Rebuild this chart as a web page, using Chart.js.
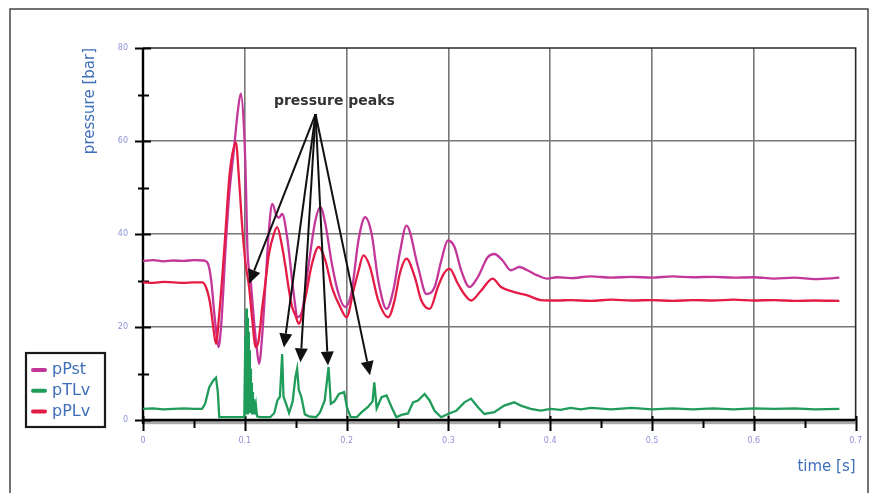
<!DOCTYPE html>
<html><head><meta charset="utf-8">
<script src="https://cdn.jsdelivr.net/npm/chart.js@4.4.0/dist/chart.umd.min.js"></script>
<style>html,body{margin:0;padding:0;background:#fff;} canvas{display:block;}</style>
</head><body>
<canvas id="c" width="878" height="493"></canvas>
<script>
// ---------- data (time [s], pressure [bar]) ----------
const pPstT = [0,0.01,0.02,0.03,0.04,0.05,0.06,0.064,0.067,0.070,0.0725,0.0742,0.077,0.0812,0.0845,0.0896,0.0928,0.0961,0.0993,0.101,0.1025,0.1058,0.109,0.112,0.114,0.1172,0.1205,0.1237,0.127,0.131,0.1335,0.1367,0.1416,0.1465,0.1497,0.1514,0.1563,0.1628,0.1693,0.1742,0.1791,0.1855,0.1921,0.1986,0.2051,0.2116,0.2182,0.2246,0.2311,0.2393,0.2458,0.2523,0.2588,0.2702,0.2783,0.2865,0.293,0.2995,0.306,0.3125,0.3207,0.3288,0.3386,0.3451,0.3532,0.3613,0.3695,0.3776,0.3874,0.3971,0.4069,0.42,0.44,0.46,0.48,0.50,0.52,0.54,0.56,0.58,0.60,0.62,0.64,0.66,0.684];
const pPstV = [34.2,34.4,34.1,34.3,34.2,34.4,34.3,33.5,30,23,18,15.7,21,37.2,47.9,58.7,65.8,70.2,62.3,51.5,37.2,30,21.4,15,12.1,18.5,30,40.8,46.5,44,43.5,44.3,39.3,30,24.3,22.1,23.5,33.6,42.9,45.8,42.2,33.6,27.1,24.3,27.8,38.6,43.6,40,30,23.9,27.8,36,41.8,32.9,27.1,28.6,34.3,38.6,37.2,32.2,28.6,30.7,35,35.7,34.3,32.2,32.9,32.2,31.1,30.4,30.7,30.5,30.9,30.6,30.8,30.6,30.9,30.7,30.8,30.6,30.7,30.4,30.6,30.3,30.6];

const pTLvT = [0,0.01,0.02,0.03,0.04,0.05,0.058,0.061,0.065,0.069,0.0717,0.0735,0.0749,0.085,0.0995,0.1005,0.101,0.1015,0.102,0.1025,0.103,0.1035,0.104,0.1045,0.105,0.1055,0.106,0.1065,0.107,0.1075,0.108,0.109,0.110,0.111,0.112,0.115,0.125,0.129,0.132,0.1345,0.1367,0.138,0.1405,0.1435,0.147,0.1497,0.1514,0.153,0.1555,0.159,0.163,0.17,0.174,0.1785,0.1823,0.1845,0.188,0.1925,0.1975,0.2005,0.204,0.21,0.2148,0.221,0.2255,0.2272,0.2295,0.2343,0.2392,0.2441,0.2489,0.2538,0.2603,0.2652,0.2701,0.2766,0.2815,0.2864,0.2929,0.2995,0.3076,0.3157,0.3222,0.3288,0.3353,0.345,0.3548,0.3646,0.3711,0.3808,0.3906,0.4004,0.41,0.42,0.43,0.44,0.46,0.48,0.50,0.52,0.54,0.56,0.58,0.60,0.62,0.64,0.66,0.684];
const pTLvV = [2.4,2.5,2.3,2.4,2.5,2.4,2.4,3.5,7,8.5,9.1,6,0.6,0.6,0.6,18,1.2,24,2,22,1.2,19,2,15,1.5,11,2,8,1.2,6,1.2,4.5,1.2,3,0.8,0.6,0.6,1.5,4.2,5,14.2,5,3.5,1.5,4,9.2,11,6.5,5,1.2,0.8,0.6,1.7,4.2,11.4,3.5,4,5.6,6,2.6,0.6,0.6,1.7,2.8,4,8.1,2.5,4.9,5.3,2.8,0.6,1.1,1.4,3.8,4.2,5.6,4.2,2,0.6,1.3,2,3.8,4.6,2.8,1.3,1.7,3.1,3.8,3.1,2.4,2,2.4,2.2,2.6,2.3,2.6,2.3,2.6,2.3,2.5,2.3,2.5,2.3,2.5,2.4,2.5,2.3,2.4];

const pPLvT = [0,0.01,0.02,0.03,0.04,0.05,0.058,0.062,0.066,0.069,0.0717,0.0749,0.0781,0.0812,0.0845,0.0878,0.0912,0.0944,0.0977,0.1008,0.1042,0.1074,0.1107,0.1135,0.1172,0.1205,0.1237,0.1285,0.1318,0.1367,0.14,0.1433,0.1465,0.1497,0.153,0.1596,0.166,0.1726,0.1791,0.1855,0.1937,0.2,0.2067,0.2116,0.2165,0.223,0.2311,0.2409,0.2474,0.2523,0.2588,0.267,0.2734,0.2816,0.2897,0.2955,0.3012,0.3093,0.3158,0.3223,0.332,0.3434,0.3516,0.3646,0.3776,0.3906,0.407,0.42,0.44,0.46,0.48,0.50,0.52,0.54,0.56,0.58,0.60,0.62,0.64,0.66,0.684];
const pPLvV = [29.6,29.5,29.7,29.6,29.5,29.6,29.6,28.5,25,20,16.4,22.8,31.5,41,51.5,57.2,59.7,51.5,40.8,33.6,28.6,21.4,15.7,17,24.3,30,35.7,40,41.5,37.2,32.9,28,24.3,22.5,20.7,26.4,33.6,37.2,34.3,28.6,24.3,22.1,27.8,32,35.4,32.9,25.7,22.1,26,31.5,34.7,30.7,25.7,23.9,28.6,31.5,32.5,29.3,27,25.7,27.8,30.4,28.6,27.5,26.8,25.8,25.7,25.8,25.6,25.9,25.7,25.8,25.6,25.8,25.7,25.9,25.7,25.8,25.6,25.7,25.6,25.7];

const seriesNames = ['pPst','pTLv','pPLv'];
const xTickLabels = ['0','0.1','0.2','0.3','0.4','0.5','0.6','0.7'];
const yTickLabels = ['0','20','40','60','80'];
const xTitle = 'time [s]';
const yTitle = 'pressure [bar]';
const noteText = 'pressure peaks';

// annotation anchors (data coordinates)
const noteAnchor = {x:0.1286, y:68.5};
const arrowFrom = {x:0.1695, y:65.8};
const arrowTips = [{x:0.1042,y:29.3},{x:0.1384,y:15.6},{x:0.1547,y:12.4},{x:0.1817,y:11.7},{x:0.2230,y:9.6}];

const COLORS = {pPst:'#c4379a', pTLv:'#1f9c5a', pPLv:'#e41c45'};
const BLUE = '#3f6fb8';
const TICKC = '#8f93d6';

function pts(t,v){ return t.map((x,i)=>({x:x,y:v[i]})); }

const decor = {
  id:'decor',
  beforeDraw(chart){
    const c = chart.ctx;
    c.save(); c.fillStyle='#fff'; c.fillRect(0,0,chart.width,chart.height);
    c.strokeStyle='#444'; c.lineWidth=1.5;
    c.strokeRect(10,9,858,500);
    c.restore();
  },
  beforeDatasetsDraw(chart){
    const c = chart.ctx, xs = chart.scales.x, ys = chart.scales.y, a = chart.chartArea;
    c.save();
    c.strokeStyle='#2a2a2a'; c.lineWidth=1.6;
    c.beginPath(); c.moveTo(a.left, a.top); c.lineTo(a.right, a.top); c.lineTo(a.right, a.bottom); c.stroke();
    c.fillStyle='#a8a8a8'; c.fillRect(a.left, a.bottom+1, a.right-a.left, 3.2);
    c.strokeStyle='#000'; c.lineWidth=2.4;
    c.beginPath(); c.moveTo(a.left, a.top); c.lineTo(a.left, a.bottom+4); c.stroke();
    c.beginPath(); c.moveTo(a.left, a.bottom); c.lineTo(a.right, a.bottom); c.stroke();
    c.lineWidth=2;
    for (let v=0; v<=80; v+=10){
      const y = Math.round(ys.getPixelForValue(v))+0.5;
      const major = v%20===0;
      c.beginPath(); c.moveTo(a.left-(major?8:5), y); c.lineTo(a.left+(major?8:6), y); c.stroke();
    }
    for (let i=0;i<=14;i++){
      const t=i*0.05; const x = Math.round(xs.getPixelForValue(t))+0.5;
      const major = i%2===0;
      c.beginPath(); c.moveTo(x, a.bottom-(major?4:0)); c.lineTo(x, a.bottom+(major?11:8)); c.stroke();
    }
    c.restore();
  },
  afterDraw(chart){
    const c = chart.ctx, xs = chart.scales.x, ys = chart.scales.y;
    c.save();
    c.fillStyle='#333'; c.font='bold 14px "DejaVu Sans"'; c.textBaseline='middle'; c.textAlign='left';
    c.fillText(noteText, xs.getPixelForValue(noteAnchor.x), ys.getPixelForValue(noteAnchor.y));
    const ox = xs.getPixelForValue(arrowFrom.x), oy = ys.getPixelForValue(arrowFrom.y);
    c.strokeStyle='#111'; c.fillStyle='#111'; c.lineWidth=2;
    arrowTips.forEach(p=>{
      const tx = xs.getPixelForValue(p.x), ty = ys.getPixelForValue(p.y);
      const ang = Math.atan2(ty-oy, tx-ox), L=14, W=6.5;
      const bx = tx - L*Math.cos(ang), by = ty - L*Math.sin(ang);
      c.beginPath(); c.moveTo(ox,oy); c.lineTo(bx,by); c.stroke();
      c.beginPath(); c.moveTo(tx,ty);
      c.lineTo(bx + W*Math.sin(ang), by - W*Math.cos(ang));
      c.lineTo(bx - W*Math.sin(ang), by + W*Math.cos(ang));
      c.closePath(); c.fill();
    });
    c.strokeStyle='#1a1a1a'; c.lineWidth=2.2;
    c.strokeRect(26,353,79,74);
    c.font='16px "DejaVu Sans"'; c.textBaseline='middle';
    chart.data.datasets.forEach((ds,i)=>{
      const y = 370 + i*20.8;
      c.strokeStyle = ds.borderColor; c.lineWidth=4; c.lineCap='round';
      c.beginPath(); c.moveTo(33,y); c.lineTo(45,y); c.stroke();
      c.fillStyle = BLUE; c.fillText(ds.label, 52, y);
    });
    c.restore();
  }
};

new Chart(document.getElementById('c'), {
  type:'line',
  data:{ datasets:[
    {label:seriesNames[0], data:pts(pPstT,pPstV), borderColor:COLORS.pPst, borderWidth:2.3, pointRadius:0, cubicInterpolationMode:'monotone', order:2},
    {label:seriesNames[1], data:pts(pTLvT,pTLvV), borderColor:COLORS.pTLv, borderWidth:2.3, pointRadius:0, tension:0, order:0},
    {label:seriesNames[2], data:pts(pPLvT,pPLvV), borderColor:COLORS.pPLv, borderWidth:2.3, pointRadius:0, cubicInterpolationMode:'monotone', order:1}
  ]},
  options:{
    responsive:false, animation:false, devicePixelRatio:1,
    layout:{padding:{left:0, top:48, right:18, bottom:0}},
    plugins:{legend:{display:false}, tooltip:{enabled:false}},
    scales:{
      x:{type:'linear', min:0, max:0.7,
        afterFit(s){ s.height = 73; },
        grid:{color:(ctx)=> (ctx.tick && (ctx.tick.value===0 || ctx.tick.value>=0.69)) ? 'rgba(0,0,0,0)' : '#777', lineWidth:1.6, drawTicks:false},
        border:{display:false},
        ticks:{stepSize:0.1, padding:16, color:TICKC, font:{family:'DejaVu Sans', size:8}, maxRotation:0,
          callback:(v,i)=> xTickLabels[i]},
        title:{display:true, text:xTitle, align:'end', color:BLUE, font:{family:'DejaVu Sans', size:15}, padding:{top:0,bottom:17}}
      },
      y:{type:'linear', min:0, max:80,
        afterFit(s){ s.width = 143; },
        grid:{color:(ctx)=> (ctx.tick && (ctx.tick.value===0 || ctx.tick.value===80)) ? 'rgba(0,0,0,0)' : '#777', lineWidth:1.6, drawTicks:false},
        border:{display:false},
        ticks:{stepSize:20, padding:15, color:TICKC, font:{family:'DejaVu Sans', size:8},
          callback:(v,i)=> yTickLabels[i]},
        title:{display:true, text:yTitle, align:'end', color:BLUE, font:{family:'DejaVu Sans', size:15}, padding:{top:81,bottom:0}}
      }
    }
  },
  plugins:[decor]
});
</script>
</body></html>
